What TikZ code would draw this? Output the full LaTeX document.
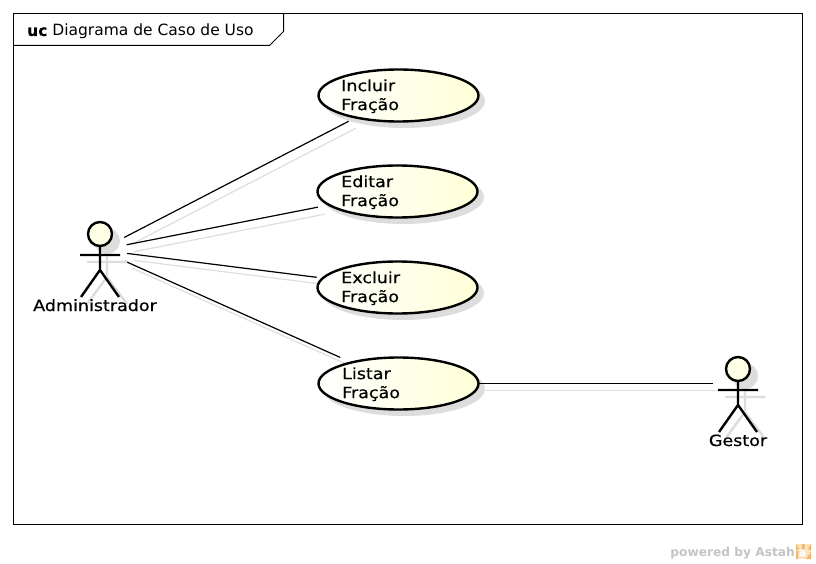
\documentclass[tikz,border=0pt]{standalone}
\usepackage{fontspec}
\setmainfont{DejaVu Sans}
\newfontfamily\lblfont[FakeBold=0.45,FakeStretch=1.13]{DejaVu Sans}
\newfontfamily\ucfont[FakeBold=0.3]{DejaVu Sans}
\usetikzlibrary{shapes.geometric}
\definecolor{shadowc}{HTML}{DDDDDD}
\definecolor{lineshadow}{HTML}{DEDEDE}
\definecolor{ucyellow}{HTML}{FFFFD8}
\definecolor{headc}{HTML}{FFFFE6}
\definecolor{brandgray}{HTML}{C4C4C4}
\definecolor{brandorange}{HTML}{F2B56B}
\definecolor{brandpale}{HTML}{FBE3BF}
\tikzset{
  ucase/.style={ellipse,draw=black,line width=2.4pt,minimum width=160pt,minimum height=52pt,inner sep=0pt,left color=white,right color=ucyellow},
  ucbound/.style={ellipse,minimum width=160pt,minimum height=52pt,inner sep=0pt},
  uctext/.style={anchor=west,align=left,font=\lblfont\fontsize{15.5}{19}\selectfont,inner sep=0pt},
  actorlabel/.style={anchor=base,font=\lblfont\fontsize{15.5}{16}\selectfont,inner sep=0pt},
  anchorzone/.style={circle,minimum size=54pt,inner sep=0pt},
  conn/.style={draw=black,line width=1.2pt},
  connshadow/.style={draw=lineshadow,line width=1.2pt,transform canvas={xshift=7pt,yshift=-7pt}},
  limb/.style={draw=black,line width=2.4pt},
  limbshadow/.style={draw=shadowc,line width=2.4pt},
  framel/.style={draw=black,line width=1pt}
}
\newcommand{\actorshape}[2]{%
  \begin{scope}[shift={(#1,#2)}]
    \fill[shadowc] (7,-9) circle (13);
    \draw[limbshadow] (7,0)--(7,27) (-13,12)--(27,12) (-13,54)--(7,27)--(27,54);
    \draw[limb] (0,-4)--(0,20) (-20,5)--(20,5) (-19,47)--(0,20)--(19,47);
    \draw[black,line width=2.4pt,fill=headc] (0,-16) circle (12);
  \end{scope}}
\begin{document}
\begin{tikzpicture}[x=1pt,y=-1pt]
\useasboundingbox (0,0) rectangle (816,564);
\fill[white] (0,0) rectangle (816,564);
% frame
\draw[framel] (13.5,13.5) rectangle (802.5,524.5);
\draw[framel] (13.5,45.5) -- (269.5,45.5) -- (283.5,31.5) -- (283.5,13.5);
\node[anchor=base west,inner sep=0pt,font=\fontsize{15.5}{18}\selectfont] (title) at (27,36) {{\ucfont\bfseries uc} Diagrama de Caso de Uso};
% actor anchor zones
\node[anchorzone] (admin) at (100,250) {};
\node[anchorzone,minimum size=50pt] (gestor) at (738,383.5) {};
% use case outlines, named for the connectors
\node[ucbound] (uc1) at (398.5,95.5) {};
\node[ucbound] (uc2) at (397.5,191.5) {};
\node[ucbound] (uc3) at (397.5,287.5) {};
\node[ucbound] (uc4) at (398.5,383.5) {};
% connector shadows
\draw[connshadow,shorten >=8pt] (admin) -- (uc1);
\draw[connshadow,shorten >=11pt] (admin) -- (uc2);
\draw[connshadow,shorten >=6pt] (admin) -- (uc3);
\draw[connshadow,shorten >=12pt] (admin) -- (uc4);
\draw[connshadow] (uc4) -- (gestor);
% shadows of use cases
\fill[shadowc] (404,101) ellipse (81 and 27);
\fill[shadowc] (403,197) ellipse (81 and 27);
\fill[shadowc] (403,293) ellipse (81 and 27);
\fill[shadowc] (404,389) ellipse (81 and 27);
% connectors
\draw[conn,shorten >=8pt] (admin) -- (uc1);
\draw[conn,shorten >=11pt] (admin) -- (uc2);
\draw[conn,shorten >=6pt] (admin) -- (uc3);
\draw[conn,shorten >=12pt] (admin) -- (uc4);
\draw[conn] (uc4) -- (gestor);
% use cases
\node[ucase] at (uc1) {};
\node[ucase] at (uc2) {};
\node[ucase] at (uc3) {};
\node[ucase] at (uc4) {};
\node[uctext] (t1) at (341,96.2) {Incluir\\Fração};
\node[uctext] (t2) at (341,192.2) {Editar\\Fração};
\node[uctext] (t3) at (341,288.2) {Excluir\\Fração};
\node[uctext] (t4) at (342,384.2) {Listar\\Fração};
% actors
\actorshape{100}{250}
\actorshape{738}{385}
\node[actorlabel] (adminlabel) at (95,311) {Administrador};
\node[actorlabel] (gestorlabel) at (738,446) {Gestor};
% brand
\node[anchor=base east,inner sep=0pt,text=brandgray,font=\bfseries\fontsize{12.2}{15}\selectfont] (brand) at (795,556) {powered by Astah};
\fill[brandpale] (796,544) rectangle (811,559);
\fill[brandorange] (796,544) -- (799,549) -- (796,550) -- cycle
  (802,544) rectangle (804.5,549) (811,544) -- (808,549) -- (811,550) -- cycle
  (806,559) -- (811,552) -- (811,559) -- cycle (796,551) rectangle (798,559);
\node[inner sep=0pt,text=white,font=\bfseries\fontsize{11}{12}\selectfont] (logo) at (802.5,553) {a};
\end{tikzpicture}
\end{document}
